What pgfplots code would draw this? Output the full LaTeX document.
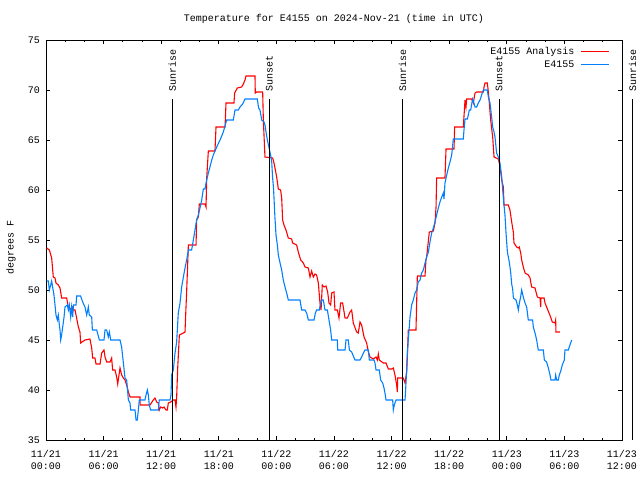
\documentclass[border=0pt]{standalone}
\usepackage{fontspec}
\setmainfont{Liberation Mono}
\setmonofont{Liberation Mono}
\usepackage{pgfplots}
\pgfplotsset{compat=1.18}

\definecolor{anared}{RGB}{255,0,0}
\definecolor{obsblue}{RGB}{0,128,255}

\begin{document}
\begin{tikzpicture}
\path[use as bounding box] (-46pt,-40pt) rectangle (594pt,440pt);
\begin{axis}[
    at={(0pt,0pt)}, anchor=south west,
    scale only axis, width=576pt, height=400pt,
    clip=false,
    xmin=0, xmax=60, ymin=35, ymax=75,
    xtick={0,6,...,60}, minor x tick num=2,
    ytick={35,40,...,75},
    xticklabels={{11/21\\00:00},{11/21\\06:00},{11/21\\12:00},{11/21\\18:00},
                 {11/22\\00:00},{11/22\\06:00},{11/22\\12:00},{11/22\\18:00},
                 {11/23\\00:00},{11/23\\06:00},{11/23\\12:00}},
    xticklabel style={align=center, yshift=-7pt},
    yticklabel style={xshift=-2.7pt},
    /pgf/number format/assume math mode=true,
    tick label style={font=\fontsize{10}{12}\selectfont},
    major tick length=4.5pt, minor tick length=2.5pt,
    tick style={black, line width=0.8pt},
    axis line style={line width=0.8pt},
    title={Temperature for E4155 on 2024-Nov-21 (time in UTC)},
    title style={at={(axis description cs:0.5,1)}, anchor=base, yshift=12.5pt,
                 font=\fontsize{10}{12}\selectfont},
    ylabel={degrees F},
    every axis y label/.style={at={(axis description cs:-0.0608,0.481)},
                 anchor=center, rotate=90, font=\fontsize{10}{12}\selectfont},
    legend cell align=right,
    legend plot pos=right,
    legend image code/.code={\draw[#1] (0pt,0pt) -- (27.6pt,0pt);},
    legend style={at={(axis description cs:1,1)}, anchor=north east,
                  xshift=-12.7pt, yshift=-6pt, draw=none, fill=none,
                  inner sep=0pt, row sep=2pt,
                  font=\fontsize{10}{12}\selectfont,
                  nodes={inner sep=1pt, text height=7pt, text depth=2pt},
                  /tikz/every odd column/.append style={column sep=5pt}},
]

% E4155 Analysis
\addplot[anared, line width=1.1pt] coordinates {
(0.07,54.2) (0.35,54.0) (0.59,53.2) (0.76,51.3) (0.94,51.2) (1.04,50.7) (1.28,50.5) (1.46,50.2) (1.63,49.2) (2.15,49.2)
(2.33,48.3) (2.57,48.1) (2.78,48.3) (2.85,48.0) (3.02,48.0) (3.19,47.2) (3.37,46.3) (3.54,45.8) (3.61,44.7) (4.06,45.0)
(4.58,45.1) (4.76,44.2) (4.86,43.2) (5.10,43.2) (5.21,42.6) (5.63,42.6) (5.80,43.7) (6.04,44.0) (6.15,43.3) (6.32,42.8)
(6.67,42.8) (6.84,43.2) (6.94,42.0) (7.19,42.0) (7.36,41.3) (7.47,40.6) (7.71,42.2) (7.88,41.5) (8.06,41.2) (8.23,41.0)
(8.40,40.5) (8.58,39.8) (8.75,39.3) (9.79,39.3) (9.80,38.5) (10.83,38.5) (11.18,39.0) (11.35,39.2) (11.53,38.8) (11.70,38.7)
(11.80,38.0) (11.94,38.3) (12.15,38.2) (12.29,38.3) (12.50,38.0) (12.64,38.0) (12.74,38.7) (12.99,38.8) (13.26,39.0) (13.44,39.0)
(13.54,38.3) (13.61,39.3) (13.72,42.2) (13.89,45.5) (14.31,45.7) (14.48,45.8) (14.58,48.2) (14.65,49.8) (14.83,54.5) (15.63,54.5)
(15.69,57.0) (15.87,57.3) (15.97,58.6) (16.56,58.6) (16.67,58.3) (16.74,61.2) (16.91,63.9) (17.60,63.9) (17.71,66.3) (18.65,66.3)
(18.75,68.7) (19.58,68.7) (19.65,69.7) (19.93,70.2) (20.38,70.3) (20.56,70.6) (20.73,71.0) (20.83,71.4) (21.77,71.4) (21.80,69.7)
(21.94,69.8) (22.57,69.8) (22.64,67.0) (22.81,63.3) (23.61,63.2) (23.75,62.7) (24.03,61.3) (24.20,60.1) (24.44,60.0) (24.55,59.2)
(24.65,57.0) (24.79,56.5) (25.00,56.0) (25.24,55.2) (25.59,55.1) (25.69,54.7) (26.11,54.5) (26.28,53.8) (26.53,53.0) (26.81,52.7)
(26.98,52.3) (27.33,52.2) (27.50,51.3) (27.67,51.9) (27.85,51.3) (28.02,51.6) (28.19,51.5) (28.37,50.7) (28.54,48.7) (28.65,48.0)
(28.78,50.5) (28.96,50.3) (29.17,50.4) (29.34,49.8) (29.48,48.7) (29.65,48.5) (29.76,49.7) (30.00,49.8) (30.10,48.0) (30.35,48.0)
(30.52,47.2) (30.69,48.7) (30.90,48.7) (31.15,47.2) (31.39,47.2) (31.67,47.8) (31.84,48.0) (32.01,46.7) (32.36,45.8) (32.53,45.7)
(32.71,46.8) (32.88,46.5) (33.13,45.3) (33.40,44.7) (33.58,43.8) (33.75,43.3) (34.10,43.1) (34.38,43.3) (34.51,43.0) (34.62,43.6)
(34.72,43.0) (35.14,42.7) (35.42,42.7) (35.66,42.1) (36.01,42.1) (36.18,42.2) (36.35,41.5) (36.53,40.5) (36.60,39.8) (36.63,41.2)
(37.22,41.2) (37.40,40.7) (37.57,41.8) (37.64,43.3) (37.74,46.0) (38.54,46.0) (38.61,48.7) (38.68,51.4) (39.48,51.4) (39.58,53.0)
(39.65,53.3) (39.93,55.8) (40.35,55.9) (40.52,56.7) (40.63,58.3) (40.69,61.2) (41.56,61.2) (41.67,64.1) (42.50,64.1) (42.57,66.3)
(43.47,66.3) (43.65,69.0) (43.75,68.3) (43.82,69.1) (44.34,69.1) (44.51,68.7) (44.69,69.7) (44.86,69.8) (45.56,69.8) (45.63,70.3)
(45.73,70.7) (45.97,70.7) (46.08,69.8) (46.18,68.7) (46.32,67.0) (46.53,65.3) (46.67,63.3) (47.12,63.1) (47.29,62.4) (47.47,61.0)
(47.64,60.3) (47.71,58.5) (48.16,58.5) (48.33,58.0) (48.51,56.8) (48.68,55.8) (48.75,54.7) (49.03,54.3) (49.20,54.2) (49.30,54.3)
(49.45,53.7) (49.55,53.0) (49.72,52.3) (49.90,51.7) (50.24,51.5) (50.42,51.2) (50.59,50.3) (50.94,50.2) (51.18,49.3) (51.46,49.2)
(51.53,48.3) (51.56,49.2) (51.88,49.2) (51.98,48.7) (52.15,48.3) (52.40,47.7) (52.60,47.2) (52.74,46.8) (53.02,46.7) (53.09,47.0)
(53.12,45.8) (53.54,45.8)
};
\addlegendentry{E4155 Analysis}

% E4155 observed
\addplot[obsblue, line width=1.1pt] coordinates {
(0.07,50.9) (0.24,50.9) (0.35,50.0) (0.49,50.5) (0.59,50.9) (0.69,50.3) (0.83,49.5) (0.94,48.5) (1.04,47.5) (1.18,47.0)
(1.28,47.5) (1.39,46.5) (1.46,46.0) (1.53,45.0) (1.63,45.5) (1.74,46.3) (1.88,47.3) (1.98,48.3) (2.22,48.5) (2.33,48.0)
(2.43,48.5) (2.57,47.3) (2.67,48.3) (2.78,47.3) (2.85,48.5) (3.13,48.5) (3.19,49.4) (3.61,49.4) (3.82,48.8) (4.06,48.3)
(4.24,47.5) (4.41,48.3) (4.51,47.5) (4.76,47.3) (4.83,46.0) (5.28,46.0) (5.45,45.4) (5.56,45.0) (6.04,45.0) (6.15,46.0)
(6.32,46.0) (6.49,45.3) (6.60,45.8) (6.74,45.0) (7.71,45.0) (7.88,44.3) (8.06,42.7) (8.23,41.2) (8.40,41.0) (8.47,40.3)
(8.58,39.0) (8.75,38.7) (8.82,38.0) (9.27,38.0) (9.38,37.0) (9.51,37.0) (9.62,38.0) (9.72,39.0) (10.31,39.0) (10.42,39.5)
(10.56,40.0) (10.66,39.5) (10.76,38.5) (10.90,38.0) (11.70,38.0) (11.80,39.0) (12.92,39.0) (13.02,39.5) (13.09,41.5) (13.26,42.0)
(13.44,43.7) (13.61,44.8) (13.78,47.7) (13.96,48.7) (14.13,50.3) (14.31,51.3) (14.48,52.2) (14.65,53.0) (14.83,54.0) (15.17,54.0)
(15.35,55.0) (15.52,56.0) (15.69,57.0) (15.87,57.5) (16.04,58.2) (16.22,59.0) (16.39,60.1) (16.56,60.1) (16.67,60.7) (16.91,61.7)
(17.08,62.3) (17.26,63.0) (17.43,63.5) (17.78,64.3) (18.13,65.0) (18.47,65.8) (18.82,67.0) (19.51,67.0) (19.69,68.0) (20.03,68.0)
(20.21,68.3) (20.49,68.6) (20.73,69.1) (22.01,69.1) (22.15,68.2) (22.29,68.0) (22.47,67.0) (22.71,66.8) (22.81,66.5) (22.92,65.8)
(23.06,65.0) (23.26,64.1) (23.44,63.3) (23.52,62.7) (23.60,61.3) (23.70,60.2) (23.85,57.2) (23.96,55.5) (24.10,54.5) (24.20,53.5)
(24.38,52.7) (24.55,52.0) (24.72,51.0) (24.90,50.3) (25.07,49.7) (25.24,49.0) (26.46,49.0) (26.63,48.0) (26.98,48.0) (27.15,47.7)
(27.33,47.0) (27.92,47.0) (28.06,47.7) (28.19,48.0) (28.47,48.0) (28.61,48.7) (28.72,49.0) (28.89,49.0) (29.06,48.0) (29.31,48.0)
(29.48,47.0) (29.65,46.0) (29.76,45.0) (30.35,45.0) (30.38,44.0) (31.15,44.0) (31.25,45.0) (31.49,45.0) (31.60,44.0) (31.84,43.8)
(32.01,43.4) (32.19,43.0) (32.71,43.0) (32.88,43.3) (33.06,43.7) (33.23,44.0) (33.58,44.0) (33.68,43.0) (34.17,43.0) (34.27,42.7)
(34.38,42.0) (34.72,42.0) (34.86,41.0) (35.07,40.7) (35.21,40.2) (35.31,39.7) (35.42,39.0) (36.11,39.0) (36.18,38.0) (36.28,38.5)
(36.46,39.0) (37.40,39.0) (37.50,40.7) (37.57,42.0) (37.64,43.7) (37.74,45.0) (37.85,46.4) (37.92,47.3) (38.09,48.5) (38.26,49.0)
(38.44,49.7) (38.61,50.0) (38.78,50.8) (38.96,51.0) (39.13,51.7) (39.31,52.0) (39.48,52.7) (39.65,53.3) (39.83,53.8) (40.00,54.8)
(40.17,55.7) (40.35,56.2) (40.52,56.8) (40.69,57.5) (40.87,58.2) (41.04,58.8) (41.22,59.3) (41.39,59.7) (41.46,59.1) (41.56,60.7)
(41.74,61.5) (41.91,62.2) (42.08,62.8) (42.26,63.5) (42.43,65.1) (43.47,65.1) (43.54,66.0) (43.65,67.1) (43.89,67.1) (43.99,67.5)
(44.10,68.0) (44.24,68.0) (44.44,69.1) (44.58,68.7) (44.69,68.3) (44.86,68.3) (45.03,68.7) (45.21,69.0) (45.38,69.5) (45.56,70.0)
(45.97,70.0) (46.08,69.3) (46.25,68.7) (46.42,67.3) (46.53,66.3) (46.67,65.8) (46.77,65.3) (46.94,63.7) (47.12,63.3) (47.29,62.7)
(47.47,61.3) (47.64,59.2) (47.81,57.5) (47.92,55.7) (48.06,53.8) (48.26,52.8) (48.40,51.8) (48.51,50.6) (48.61,50.1) (48.69,49.2)
(48.96,49.0) (49.10,48.5) (49.20,48.0) (49.31,48.7) (49.44,49.3) (49.55,50.0) (49.72,49.3) (49.90,48.7) (50.07,48.3) (50.24,47.0)
(50.69,47.0) (50.76,46.3) (50.94,45.7) (51.11,45.0) (51.28,44.0) (51.81,44.0) (51.91,43.0) (52.15,42.8) (52.33,42.2) (52.50,41.5)
(52.60,41.0) (53.02,41.0) (53.09,41.5) (53.19,41.0) (53.37,41.0) (53.47,41.5) (53.65,42.0) (53.78,42.5) (53.99,43.0) (54.06,44.0)
(54.41,44.0) (54.58,44.5) (54.76,45.0)
};
\addlegendentry{E4155}

% sunrise / sunset markers
\addplot[black, line width=0.8pt, forget plot] coordinates {(13.15,35) (13.15,69.1)};
\addplot[black, line width=0.8pt, forget plot] coordinates {(23.26,35) (23.26,69.1)};
\addplot[black, line width=0.8pt, forget plot] coordinates {(37.14,35) (37.14,69.1)};
\addplot[black, line width=0.8pt, forget plot] coordinates {(47.20,35) (47.20,69.1)};
\addplot[black, line width=0.8pt, forget plot] coordinates {(61.11,35) (61.11,69.1)};
\begin{scope}[every node/.style={rotate=90, anchor=west, inner sep=0pt, font=\fontsize{10}{12}\selectfont}]
\node at (axis cs:13.15,69.8) {Sunrise};
\node at (axis cs:23.26,69.8) {Sunset};
\node at (axis cs:37.14,69.8) {Sunrise};
\node at (axis cs:47.20,69.8) {Sunset};
\node at (axis cs:61.11,69.8) {Sunrise};
\end{scope}
\end{axis}
\end{tikzpicture}
\end{document}
